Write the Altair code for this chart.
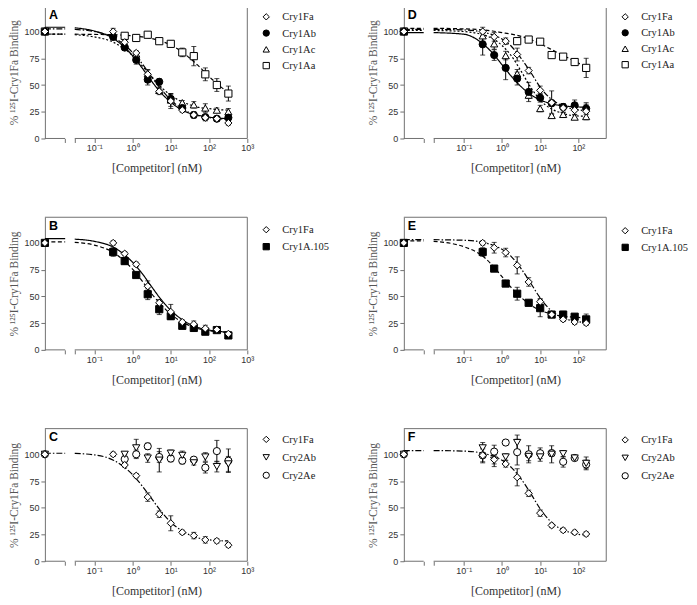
import altair as alt
import pandas as pd

# ---------------- data ----------------
CONC_LONG = [0, 0.3125, 0.625, 1.25, 2.5, 5, 10, 20, 40, 80, 160, 320]   # nM, panels A-C
CONC_SHORT = [0, 0.3125, 0.625, 1.25, 2.5, 5, 10, 20, 40, 80, 160]       # nM, panels D-F
FIT_X_LONG = [-1.51, -1, -0.5, 0, 0.25, 0.5, 0.75, 1, 1.25, 1.5, 1.75, 2, 2.25, 2.5]   # log10 nM
FIT_X_SHORT = [-1.79, -1, -0.5, -0.25, 0, 0.25, 0.5, 0.75, 1, 1.25, 1.5, 1.75, 2, 2.2]

# Panel A
A_NAMES = ["Cry1Fa", "Cry1Ab", "Cry1Ac", "Cry1Aa"]
A_Y = {
    "Cry1Fa": [100, 100, 90, 80, 60, 44, 35, 26.5, 22, 19.5, 18.5, 14.5],
    "Cry1Ab": [100, 95, 85, 73.5, 55, 53, 37, 28.5, 22, 20, 18.5, 19.5],
    "Cry1Ac": [100, 98, 89, 79, 60.5, 45, 36, 33.5, 31.5, 28.5, 26.5, 25],
    "Cry1Aa": [100, None, 96, 94, 97, 91, 88.5, 80.5, 77, 60, 50, 42],
}
A_ERR = {
    "Cry1Fa": [0, 3, 2, 2, 4, 3, 7, 2, 3, 3, 2, 2],
    "Cry1Ab": [0, 3, 2, 4, 5, 3, 4, 2, 2, 2, 2, 2],
    "Cry1Ac": [0, 3, 2, 2, 4, 3, 6, 2, 3, 4, 2, 3],
    "Cry1Aa": [0, 0, 2, 3, 2, 2, 3, 4, 9, 6, 6, 7],
}
A_FIT = {
    "Cry1Fa": [102, 100, 94.5, 80.5, 70, 57.5, 46, 36, 29, 24, 21, 19.5, 18.5, 18],
    "Cry1Ab": [103.5, 100.5, 93.5, 77.5, 66, 53.5, 42.5, 34, 27.5, 23.5, 21.5, 20, 19, 18.5],
    "Cry1Ac": [97, 95, 90, 77.5, 68, 58, 48, 40.5, 35, 31.5, 29, 28, 27, 26.5],
    "Cry1Aa": [97.5, 97.3, 97, 96, 95, 93.5, 91, 87.5, 82, 75, 67, 58, 50, 43],
}
A_TOP = {"Cry1Fa": 102.5, "Cry1Ab": 104, "Cry1Ac": 97.5, "Cry1Aa": 97.5}

# Panel D
D_NAMES = ["Cry1Fa", "Cry1Ab", "Cry1Ac", "Cry1Aa"]
D_Y = {
    "Cry1Fa": [100, 100, 95, 91, 78.5, 63.5, 45, 33.5, 28.5, 26.5, 25.5],
    "Cry1Ab": [100, 88, 78, 66, 56, 43.5, 38, 33, 29.5, 31, 28],
    "Cry1Ac": [100, 96, 88.5, 77.5, 60.5, 40.5, 28, 21.5, 22.5, 20, 20.5],
    "Cry1Aa": [100, None, None, None, 91, 92.5, 90.5, 78, 76.5, 71.5, 66],
}
D_ERR = {
    "Cry1Fa": [0, 4, 4, 3, 6, 3, 4, 11, 4, 4, 8],
    "Cry1Ab": [0, 10, 5, 11, 6, 9, 4, 3, 3, 5, 4],
    "Cry1Ac": [0, 5, 5, 4, 4, 3, 3, 2, 2, 2, 2],
    "Cry1Aa": [0, 0, 0, 0, 3, 2, 2, 2, 2, 3, 9],
}
D_FIT = {
    "Cry1Fa": [102, 101.5, 99.5, 97, 93, 86, 75, 62, 48, 38, 32, 28.5, 26.8, 26],
    "Cry1Ab": [99, 97.5, 88.5, 80, 69, 58, 48.5, 41, 36, 33, 31, 30, 29.5, 29],
    "Cry1Ac": [101, 100, 97, 93.5, 87, 77, 63, 48, 36, 28.5, 24.5, 22, 21, 20.8],
    "Cry1Aa": [103, 102.5, 101.5, 100.5, 99, 97.5, 95.5, 92.5, 88.5, 84, 79.5, 75, 70.5, 67],
}
D_TOP = {"Cry1Fa": 102, "Cry1Ab": 99, "Cry1Ac": 101, "Cry1Aa": 103}

# Panel B
B_NAMES = ["Cry1Fa", "Cry1A.105"]
B_Y = {
    "Cry1Fa": [100, 100, 90, 80, 59.5, 44, 35.5, 26, 24, 20, 19, 15],
    "Cry1A.105": [100, 91.5, 83, 70, 52, 38, 31.5, 22.5, 20.5, 17, 18.5, 13.5],
}
B_ERR = {
    "Cry1Fa": [0, 2, 2, 2, 5, 3, 7, 2, 3, 3, 2, 2],
    "Cry1A.105": [0, 4, 3, 2, 5, 5, 3, 2, 2, 2, 2, 2],
}
B_FIT = {
    "Cry1Fa": [103.5, 101.5, 96, 82, 71.5, 59, 47, 37, 29.5, 24, 20.5, 18.5, 17.3, 16.5],
    "Cry1A.105": [100.5, 98, 91, 75.5, 64.5, 52.5, 42, 33.5, 27, 22.5, 19.5, 17.8, 16.8, 16.3],
}
B_TOP = {"Cry1Fa": 104, "Cry1A.105": 101}

# Panel E
E_NAMES = ["Cry1Fa", "Cry1A.105"]
E_Y = {
    "Cry1Fa": [100, 100, 95.5, 91, 79, 63.5, 45, 33, 28.5, 26, 25],
    "Cry1A.105": [100, 91.5, 76, 62, 52.5, 44, 39, 33, 33, 31, 28.5],
}
E_ERR = {
    "Cry1Fa": [0, 2, 5, 4, 8, 4, 3, 2, 2, 2, 2],
    "Cry1A.105": [0, 4, 2, 2, 6, 2, 8, 2, 3, 2, 5],
}
E_FIT = {
    "Cry1Fa": [103, 102.5, 100.5, 98, 94, 87, 76, 62.5, 48.5, 38, 31.5, 28, 26.3, 25.5],
    "Cry1A.105": [101.5, 96.5, 87.5, 79, 68.5, 58, 49, 42, 37, 34, 32, 31, 30.3, 30],
}
E_TOP = {"Cry1Fa": 103, "Cry1A.105": 102}

# Panel C
C_NAMES = ["Cry1Fa", "Cry2Ab", "Cry2Ae"]
C_Y = {
    "Cry1Fa": [100, 100, 90, 80, 60, 44, 35.5, 27, 24, 20, 19, 15],
    "Cry2Ab": [100, None, 100, 106, 96.5, 94.5, 101, 99, 92, 97.5, 88.5, 91],
    "Cry2Ae": [100, None, 95.5, 100, 107.5, 97.5, 96, 94, 95, 87.5, 103, 94],
}
C_ERR = {
    "Cry1Fa": [0, 2, 2, 2, 4, 3, 7, 2, 3, 3, 2, 2],
    "Cry2Ab": [0, 0, 2, 8, 4, 11, 3, 4, 2, 4, 5, 7],
    "Cry2Ae": [0, 0, 4, 4, 3, 5, 3, 3, 2, 5, 10, 11],
}
C_FIT = {"Cry1Fa": [100.8, 99.5, 94.5, 81, 70.5, 58.5, 46.5, 36.5, 29.5, 24.5, 21.5, 20, 19.3, 19]}
C_TOP = {"Cry1Fa": 101}

# Panel F
F_NAMES = ["Cry1Fa", "Cry2Ab", "Cry2Ae"]
F_Y = {
    "Cry1Fa": [100, 99, 95, 91, 78.5, 63.5, 45, 33.5, 29, 27, 25.5],
    "Cry2Ab": [100, 106, 94.5, 97.5, 111, 98, 97.5, 100, 100.5, 96.5, 91.5],
    "Cry2Ae": [100, 99, 102.5, 111, 102, 100, 101, 101, 93, 96.5, 90.5],
}
F_ERR = {
    "Cry1Fa": [0, 6, 4, 3, 8, 3, 3, 2, 2, 2, 2],
    "Cry2Ab": [0, 5, 6, 3, 7, 4, 4, 8, 3, 2, 6],
    "Cry2Ae": [0, 7, 6, 2, 12, 8, 5, 3, 5, 2, 4],
}
F_FIT = {"Cry1Fa": [103.5, 103, 101, 98.5, 94.5, 87.5, 77, 63.5, 49, 38, 31, 27.3, 25.2, 24.5]}
F_TOP = {"Cry1Fa": 103.5}

TICK_LABELS = {0.1: "10⁻¹", 1: "10⁰", 10: "10¹", 100: "10²", 1000: "10³"}

# ---------------- styling / geometry ----------------
W, H = 203, 133
FR = "#707070"
SOLID, DASHED, DOTTED, DASHDOT = [1, 0], [4, 2.5], [2, 2], [6, 2, 1.5, 2]
GEOM_LONG = dict(lmin=-2.29, lmax=3.0, b1=-1.76, b2=-1.51, decades=[0.1, 1, 10, 100, 1000])
GEOM_SHORT = dict(lmin=-2.57, lmax=2.73, b1=-2.05, b2=-1.79, decades=[0.1, 1, 10, 100])


def panel(letter, names, shapes, fills, dashes, conc, ys, errs, fit_x, fits, tops, geom, leg_y0, leg_step):
    xmin, xmax = 10 ** geom["lmin"], 10 ** geom["lmax"]
    tick_vals = [10 ** geom["b1"], 10 ** geom["b2"]] + geom["decades"]
    expr = " : ".join(
        f"abs(datum.value - {v}) < {v * 1e-6} ? '{t}'" for v, t in TICK_LABELS.items()
    ) + " : ''"
    xaxis = alt.Axis(
        values=tick_vals, labelExpr=expr, title="[Competitor] (nM)", domain=False,
        grid=False, tickSize=4, tickColor=FR, labelFont="Liberation Sans",
        labelFontSize=9, labelColor="#333", labelPadding=1.5, labelFlush=False,
        labelOverlap=False, titleFont="Liberation Serif", titleFontSize=12,
        titleFontWeight="normal", titleColor="#333", titlePadding=10, titleX=112,
    )
    yaxis = alt.Axis(
        values=[0, 25, 50, 75, 100], title="% ¹²⁵I-Cry1Fa Binding", grid=False,
        domainColor=FR, tickColor=FR, tickSize=4, labelFont="Liberation Sans",
        labelFontSize=9, labelColor="#333", labelPadding=2,
        titleFont="Liberation Serif", titleFontSize=11.5, titleFontWeight="normal",
        titleColor="#555", titlePadding=4,
    )
    xs = alt.Scale(type="log", domain=[xmin, xmax], nice=False)
    ysc = alt.Scale(domain=[0, 124], nice=False)

    def X(f):
        return alt.X(f, type="quantitative", scale=xs, axis=xaxis)

    def Y(f):
        return alt.Y(f, type="quantitative", scale=ysc, axis=yaxis)

    rows = []
    for name in reversed(names):
        for c, v, e in zip(conc, ys[name], errs[name]):
            if v is None:
                continue
            rows.append(dict(series=name, conc=c, y=v, err=e))
    pts = pd.DataFrame(rows)

    frows = []
    for name in names:
        if name not in fits:
            continue
        for lx in (geom["lmin"], geom["b1"]):
            frows.append(dict(fit=name, key=name + "-L", lx=lx, y=tops[name]))
        for lx, v in zip(fit_x, fits[name]):
            frows.append(dict(fit=name, key=name + "-R", lx=lx, y=v))
    fdf = pd.DataFrame(frows)
    fit_names = [n for n in names if n in fits]

    segs = pd.DataFrame({"l1": [geom["lmin"], geom["b2"]], "l2": [geom["b1"], geom["lmax"]]})

    one = alt.Data(values=[{"k": 1}])
    top_rule = alt.Chart(one).mark_rule(color=FR, strokeWidth=1).encode(
        x=alt.value(0), x2=alt.value(W), y=alt.value(0))
    right_rule = alt.Chart(one).mark_rule(color=FR, strokeWidth=1).encode(
        x=alt.value(W), y=alt.value(0), y2=alt.value(H))
    axis_line = alt.Chart(segs).transform_calculate(
        a="pow(10, datum.l1)", b="pow(10, datum.l2)"
    ).mark_rule(color=FR, strokeWidth=1).encode(x=X("a"), x2="b:Q", y=alt.value(H))

    curves = alt.Chart(fdf).transform_calculate(px="pow(10, datum.lx)").mark_line(
        color="black", strokeWidth=1.2, interpolate="monotone"
    ).encode(
        x=X("px"), y=Y("y"), detail="key:N",
        strokeDash=alt.StrokeDash("fit:N", scale=alt.Scale(domain=fit_names, range=[dashes[n] for n in fit_names]), legend=None),
    )

    base = alt.Chart(pts).transform_calculate(
        px=f"datum.conc == 0 ? {xmin} : datum.conc",
        lo="datum.y - datum.err", hi="datum.y + datum.err",
    )
    ebase = base.transform_filter("datum.err > 0")
    err_rule = ebase.mark_rule(color="black", strokeWidth=1).encode(x=X("px"), y=Y("lo"), y2="hi:Q")
    cap_lo = ebase.mark_tick(orient="horizontal", size=5, thickness=1, color="black").encode(x=X("px"), y=Y("lo"))
    cap_hi = ebase.mark_tick(orient="horizontal", size=5, thickness=1, color="black").encode(x=X("px"), y=Y("hi"))
    points = base.mark_point(filled=True, size=52, stroke="black", strokeWidth=1, opacity=1).encode(
        x=X("px"), y=Y("y"),
        shape=alt.Shape("series:N", scale=alt.Scale(domain=names, range=shapes), legend=None),
        fill=alt.Fill("series:N", scale=alt.Scale(domain=names, range=fills), legend=None),
    )
    label = alt.Chart(alt.Data(values=[{"t": letter}])).mark_text(
        align="left", baseline="alphabetic", font="Liberation Sans", fontWeight="bold",
        fontSize=12.5, color="black",
    ).encode(text="t:N", x=alt.value(4), y=alt.value(12.7))

    # legend (guide): symbol + label per series
    legend_layers = []
    for i, (name, shp, fl) in enumerate(zip(names, shapes, fills)):
        yy = leg_y0 + i * leg_step
        d = alt.Data(values=[{"name": name}])
        legend_layers.append(alt.Chart(d).mark_point(
            shape=shp, filled=True, fill=fl, stroke="black", strokeWidth=1, size=40, opacity=1
        ).encode(x=alt.value(222), y=alt.value(yy)))
        legend_layers.append(alt.Chart(d).mark_text(
            align="left", baseline="middle", font="Liberation Serif", fontSize=10.5, color="#222"
        ).encode(text="name:N", x=alt.value(238), y=alt.value(yy + 0.5)))

    return alt.layer(top_rule, right_rule, axis_line, curves, err_rule, cap_lo, cap_hi, points, label,
                     *legend_layers).properties(width=W, height=H)


A = panel("A", A_NAMES, ["diamond", "circle", "triangle-up", "square"], ["white", "black", "white", "white"],
          {"Cry1Fa": DASHDOT, "Cry1Ab": SOLID, "Cry1Ac": DOTTED, "Cry1Aa": DASHED},
          CONC_LONG, A_Y, A_ERR, FIT_X_LONG, A_FIT, A_TOP, GEOM_LONG, 11, 16.3)
D = panel("D", D_NAMES, ["diamond", "circle", "triangle-up", "square"], ["white", "black", "white", "white"],
          {"Cry1Fa": DASHDOT, "Cry1Ab": SOLID, "Cry1Ac": DOTTED, "Cry1Aa": DASHED},
          CONC_SHORT, D_Y, D_ERR, FIT_X_SHORT, D_FIT, D_TOP, GEOM_SHORT, 11, 16)
B = panel("B", B_NAMES, ["diamond", "square"], ["white", "black"],
          {"Cry1Fa": SOLID, "Cry1A.105": DASHED},
          CONC_LONG, B_Y, B_ERR, FIT_X_LONG, B_FIT, B_TOP, GEOM_LONG, 12.5, 17)
E = panel("E", E_NAMES, ["diamond", "square"], ["white", "black"],
          {"Cry1Fa": DASHDOT, "Cry1A.105": DASHED},
          CONC_SHORT, E_Y, E_ERR, FIT_X_SHORT, E_FIT, E_TOP, GEOM_SHORT, 13.5, 16.7)
C = panel("C", C_NAMES, ["diamond", "triangle-down", "circle"], ["white", "white", "white"],
          {"Cry1Fa": DASHDOT},
          CONC_LONG, C_Y, C_ERR, FIT_X_LONG, C_FIT, C_TOP, GEOM_LONG, 10.8, 18)
F = panel("F", F_NAMES, ["diamond", "triangle-down", "circle"], ["white", "white", "white"],
          {"Cry1Fa": DASHDOT},
          CONC_SHORT, F_Y, F_ERR, FIT_X_SHORT, F_FIT, F_TOP, GEOM_SHORT, 11.3, 18)

chart = alt.concat(
    A, D, B, E, C, F, columns=2, spacing={"row": 79, "column": 157}, bounds="flush"
).resolve_scale(
    x="independent", y="independent", shape="independent", fill="independent", strokeDash="independent"
).configure_view(
    stroke="transparent"
).properties(padding={"top": -4, "left": 0, "right": 0, "bottom": 0}, background="white")

chart.save("out.html", embed_options={"renderer": "svg", "actions": False})
